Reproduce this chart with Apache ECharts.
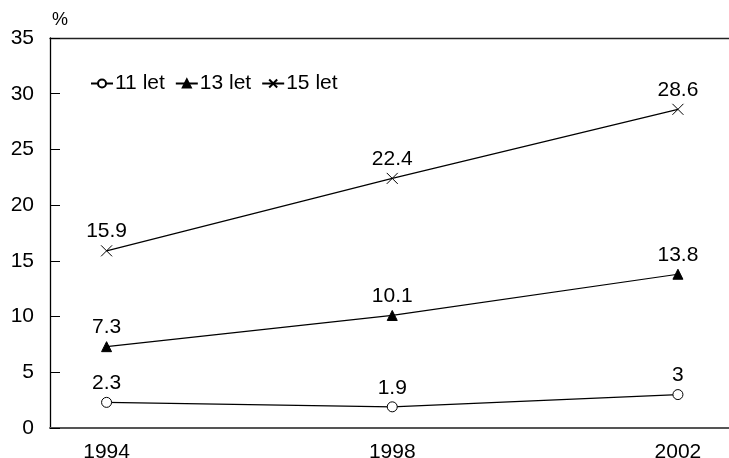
<!DOCTYPE html>
<html>
<head>
<meta charset="utf-8">
<script src="https://cdn.jsdelivr.net/npm/echarts@6/dist/echarts.min.js"></script>
<style>
  html, body { margin: 0; padding: 0; background: #fff; }
  #chart { width: 729px; height: 458px; }
</style>
</head>
<body>
<div id="chart"></div>
<script>
// Survey years and shares (%) by age group
const years = [1994, 1998, 2002];
const seriesNames = ['11 let', '13 let', '15 let'];
const age11 = [2.3, 1.9, 3];
const age13 = [7.3, 10.1, 13.8];
const age15 = [15.9, 22.4, 28.6];
const yTicks = [0, 5, 10, 15, 20, 25, 30, 35];

const FONT = 'Liberation Sans, Arial, sans-serif';
const FS = 21;
const crossPath = 'path://M0,0L10,10M10,0L0,10';

function pairs(vals) {
  return years.map((y, i) => [y, vals[i]]);
}

function lineSeries(name, vals, symbol, size, filled) {
  return {
    name: name,
    type: 'line',
    data: pairs(vals),
    symbol: symbol,
    symbolSize: size,
    showAllSymbol: true,
    lineStyle: { color: '#000', width: 1.2 },
    itemStyle: {
      color: filled ? '#000' : '#fff',
      borderColor: '#000',
      borderWidth: 1
    },
    label: {
      show: true,
      position: 'top',
      distance: 3,
      color: '#000',
      fontFamily: FONT,
      fontSize: FS,
      formatter: p => String(p.value[1])
    },
    emphasis: { disabled: true },
    animation: false
  };
}

const chart = echarts.init(document.getElementById('chart'));
chart.setOption({
  backgroundColor: '#fff',
  animation: false,
  textStyle: { fontFamily: FONT, color: '#000' },
  grid: { left: 50, right: 0, top: 38, bottom: 30, containLabel: false, outerBoundsMode: 'none' },
  legend: {
    data: seriesNames,
    left: 85,
    top: 68,
    itemWidth: 22,
    itemHeight: 10,
    itemGap: 10,
    textStyle: { fontFamily: FONT, fontSize: FS, color: '#000', padding: [0, 0, 0, -3] }
  },
  xAxis: [
    {
      type: 'value',
      min: 1993.208,
      max: 2002.715,
      splitLine: { show: false },
      axisLine: { show: true, onZero: false, lineStyle: { color: '#555', width: 2 } },
      axisTick: { show: false },
      axisLabel: {
        customValues: years,
        color: '#000',
        fontFamily: FONT,
        fontSize: FS,
        margin: 14,
        formatter: v => String(v)
      }
    },
    {
      type: 'value',
      position: 'top',
      min: 1993.208,
      max: 2002.715,
      splitLine: { show: false },
      axisLine: { show: true, onZero: false, lineStyle: { color: '#222', width: 1.3 } },
      axisTick: { show: false },
      axisLabel: { show: false }
    }
  ],
  yAxis: {
    type: 'value',
    min: 0,
    max: 35,
    interval: 5,
    name: '%',
    nameLocation: 'end',
    nameGap: 9,
    nameTextStyle: { color: '#000', fontFamily: FONT, fontSize: 18, align: 'left', padding: [0, 0, 0, 2] },
    splitLine: { show: false },
    axisLine: { show: true, lineStyle: { color: '#000', width: 1.3 } },
    axisTick: { show: true, inside: true, length: 10, lineStyle: { color: '#000', width: 1 } },
    axisLabel: {
      customValues: yTicks,
      color: '#000',
      fontFamily: FONT,
      fontSize: FS,
      margin: 16
    }
  },
  series: [
    lineSeries(seriesNames[0], age11, 'circle', 10, false),
    lineSeries(seriesNames[1], age13, 'triangle', 10, true),
    lineSeries(seriesNames[2], age15, crossPath, 11, false)
  ]
});
</script>
</body>
</html>
